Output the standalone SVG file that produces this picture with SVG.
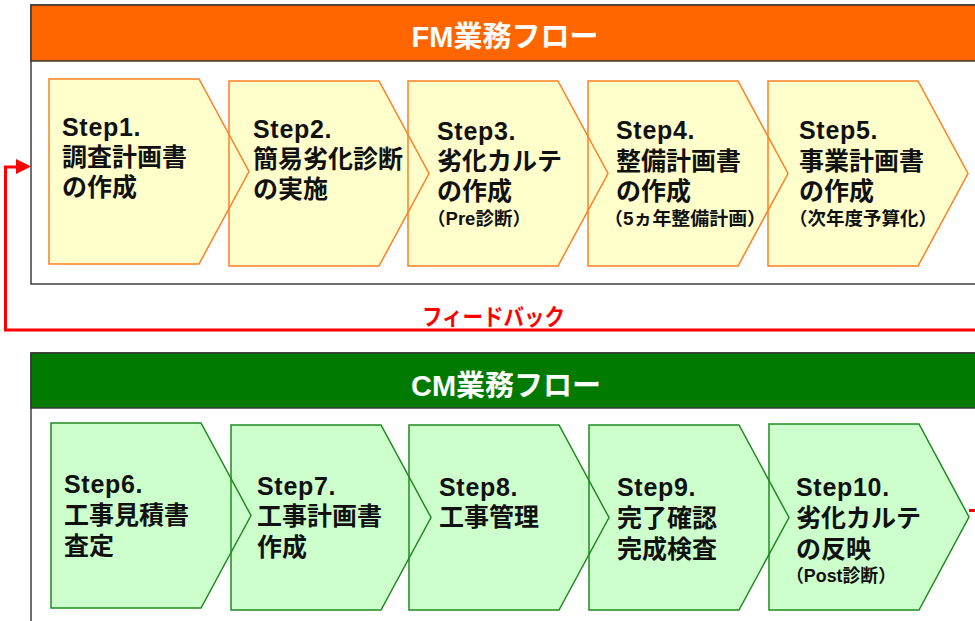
<svg xmlns="http://www.w3.org/2000/svg" xmlns:xlink="http://www.w3.org/1999/xlink" width="975" height="621" viewBox="0 0 975 621">
<style>
  .frame { fill: #ffffff; stroke: #333333; stroke-width: 1.4; }
  .hdr-fm { fill: #ff6600; stroke: #333333; stroke-width: 1.4; }
  .hdr-cm { fill: #007a00; stroke: #333333; stroke-width: 1.4; }
  .title { font-family: "Liberation Sans", "Noto Sans CJK JP", sans-serif; font-weight: bold; font-size: 29px; fill: #ffffff; text-anchor: middle; }
  .t { font-family: "Liberation Sans", "Noto Sans CJK JP", sans-serif; font-weight: bold; font-size: 25px; fill: #111111; }
  .st { letter-spacing: 0.7px; }
  .s { font-family: "Liberation Sans", "Noto Sans CJK JP", sans-serif; font-weight: bold; font-size: 18px; fill: #111111; }
  .fb { font-family: "Liberation Sans", "Noto Sans CJK JP", sans-serif; font-weight: bold; font-size: 23px; fill: #ff0000; }
  .yfill { fill: #ffffcc; stroke: none; }
  .gfill { fill: #ccffcc; stroke: none; }
  .ystroke { fill: none; stroke: #ff7f22; stroke-width: 1.5; }
  .gstroke { fill: none; stroke: #1f8b1f; stroke-width: 1.5; }
  .red { fill: none; stroke: #ff0000; stroke-width: 3; }
</style>
<defs>
  <polygon id="c1" points="49,79 199,79 249,171.5 199,264 49,264"/>
  <polygon id="c2" points="229,81 379,81 429,173.5 379,266 229,266"/>
  <polygon id="c3" points="408,81 558,81 608,173.5 558,266 408,266"/>
  <polygon id="c4" points="588,81 738,81 788,173.5 738,266 588,266"/>
  <polygon id="c5" points="768,81 918,81 968,173.5 918,266 768,266"/>
  <polygon id="c6" points="51,423 201,423 251,515.5 201,608 51,608"/>
  <polygon id="c7" points="231,425 381,425 431,517.5 381,610 231,610"/>
  <polygon id="c8" points="409,425 559,425 609,517.5 559,610 409,610"/>
  <polygon id="c9" points="589,425 739,425 789,517.5 739,610 589,610"/>
  <polygon id="c10" points="769,424 919,424 969,517 919,610 769,610"/>
</defs>

<g id="fm-frame">
  <rect class="frame" x="31" y="5" width="960" height="279"/>
  <rect class="hdr-fm" x="31" y="5" width="960" height="56"/>
  <text class="title" x="505" y="47">FM業務フロー</text>
</g>

<g id="cm-frame">
  <rect class="frame" x="31" y="353" width="960" height="300"/>
  <rect class="hdr-cm" x="31" y="353" width="960" height="55"/>
  <text class="title" x="506" y="396">CM業務フロー</text>
</g>

<g id="chevron-fills">
  <use xlink:href="#c1" class="yfill"/>
  <use xlink:href="#c2" class="yfill"/>
  <use xlink:href="#c3" class="yfill"/>
  <use xlink:href="#c4" class="yfill"/>
  <use xlink:href="#c5" class="yfill"/>
  <use xlink:href="#c6" class="gfill"/>
  <use xlink:href="#c7" class="gfill"/>
  <use xlink:href="#c8" class="gfill"/>
  <use xlink:href="#c9" class="gfill"/>
  <use xlink:href="#c10" class="gfill"/>
</g>

<g id="step1">
  <use xlink:href="#c1" class="ystroke"/>
  <text class="t st" x="62" y="136">Step1.</text>
  <text class="t" x="62" y="166">調査計画書</text>
  <text class="t" x="62" y="196">の作成</text>
</g>
<g id="step2">
  <use xlink:href="#c2" class="ystroke"/>
  <text class="t st" x="253" y="138">Step2.</text>
  <text class="t" x="253" y="168">簡易劣化診断</text>
  <text class="t" x="253" y="198">の実施</text>
</g>
<g id="step3">
  <use xlink:href="#c3" class="ystroke"/>
  <text class="t st" x="437" y="140">Step3.</text>
  <text class="t" x="437" y="170">劣化カルテ</text>
  <text class="t" x="437" y="200">の作成</text>
  <text class="s" x="427" y="225" textLength="104" lengthAdjust="spacingAndGlyphs">（Pre診断）</text>
</g>
<g id="step4">
  <use xlink:href="#c4" class="ystroke"/>
  <text class="t st" x="616" y="139">Step4.</text>
  <text class="t" x="616" y="170">整備計画書</text>
  <text class="t" x="616" y="200">の作成</text>
  <text class="s" x="604" y="225" textLength="162" lengthAdjust="spacingAndGlyphs">（5ヵ年整備計画）</text>
</g>
<g id="step5">
  <use xlink:href="#c5" class="ystroke"/>
  <text class="t st" x="799" y="139">Step5.</text>
  <text class="t" x="799" y="170">事業計画書</text>
  <text class="t" x="799" y="200">の作成</text>
  <text class="s" x="789" y="225" textLength="148" lengthAdjust="spacingAndGlyphs">（次年度予算化）</text>
</g>

<g id="step6">
  <use xlink:href="#c6" class="gstroke"/>
  <text class="t st" x="64" y="493">Step6.</text>
  <text class="t" x="64" y="524">工事見積書</text>
  <text class="t" x="64" y="555">査定</text>
</g>
<g id="step7">
  <use xlink:href="#c7" class="gstroke"/>
  <text class="t st" x="257" y="495">Step7.</text>
  <text class="t" x="257" y="525">工事計画書</text>
  <text class="t" x="257" y="556">作成</text>
</g>
<g id="step8">
  <use xlink:href="#c8" class="gstroke"/>
  <text class="t st" x="439" y="496">Step8.</text>
  <text class="t" x="439" y="526">工事管理</text>
</g>
<g id="step9">
  <use xlink:href="#c9" class="gstroke"/>
  <text class="t st" x="617" y="496">Step9.</text>
  <text class="t" x="617" y="527">完了確認</text>
  <text class="t" x="617" y="558">完成検査</text>
</g>
<g id="step10">
  <use xlink:href="#c10" class="gstroke"/>
  <text class="t st" x="796" y="496">Step10.</text>
  <text class="t" x="796" y="527">劣化カルテ</text>
  <text class="t" x="796" y="558">の反映</text>
  <text class="s" x="786" y="582" textLength="110" lengthAdjust="spacingAndGlyphs">（Post診断）</text>
</g>

<g id="connectors">
  <polyline class="red" points="975,330 5.5,330 5.5,167 17,167"/>
  <polygon points="16,159 31,166.5 16,174" fill="#ff0000"/>
  <line class="red" x1="969" y1="510.5" x2="976" y2="510.5"/>
  <text class="fb" x="422" y="325" textLength="143" lengthAdjust="spacingAndGlyphs">フィードバック</text>
</g>
</svg>
